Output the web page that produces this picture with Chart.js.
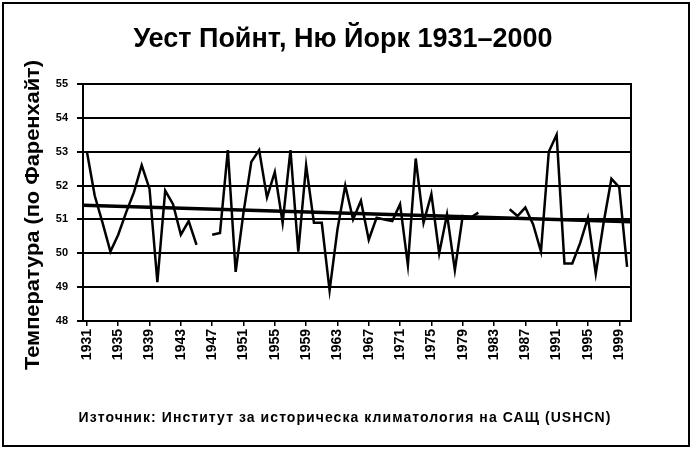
<!DOCTYPE html>
<html>
<head>
<meta charset="utf-8">
<script src="https://cdn.jsdelivr.net/npm/chart.js@4.4.1/dist/chart.umd.min.js"></script>
<style>
  html, body { margin:0; padding:0; background:#fff; }
  #wrap { width:693px; height:452px; }
</style>
</head>
<body>
<div id="wrap"><canvas id="chart" width="693" height="452"></canvas></div>
<script>
const years = [];
for (let y = 1931; y <= 2000; y++) years.push(y);

// mean annual temperature, F (null = no data)
const temps = [
  53.0, 51.7, 50.9, 50.05, 50.55, 51.2, 51.8, 52.6, 51.9, 49.15,   // 1931-1940
  51.85, 51.45, 50.55, 50.95, 50.25, null, 50.55, 50.6, 53.05, 49.45, // 1941-1950
  51.2, 52.7, 53.05, 51.65, 52.4, 50.9, 53.05, 50.05, 52.6, 50.9,   // 1951-1960
  50.9, 48.9, 50.7, 52.0, 51.0, 51.55, 50.4, 51.05, 51.0, 50.95,    // 1961-1970
  51.45, 49.65, 52.8, 50.9, 51.75, 50.0, 51.15, 49.5, 51.1, 51.05,  // 1971-1980
  51.2, null, null, null, 51.3, 51.1, 51.35, 50.85, 50.05, 53.0,    // 1981-1990
  53.5, 49.7, 49.7, 50.3, 51.05, 49.4, 50.9, 52.2, 51.95, 49.6      // 1991-2000
];

const trendYears = [1930.5, 2000.5];
const trendValues = [51.42, 50.93];

const tickYears = [1931, 1935, 1939, 1943, 1947, 1951, 1955, 1959, 1963, 1967,
                   1971, 1975, 1979, 1983, 1987, 1991, 1995, 1999];
const yMin = 48, yMax = 55;

const titleText = 'Уест Пойнт, Ню Йорк 1931–2000';
const yTitleText = 'Температура (по Фаренхайт)';
const sourceText = 'Източник: Институт за историческа климатология на САЩ (USHCN)';

const sans = "'Liberation Sans', Arial, sans-serif";

// draw text squeezed/stretched to a given width (the original uses a condensed face)
function fitText(c, txt, cx, cy, w, rot) {
  const m = c.measureText(txt).width;
  c.save();
  c.translate(cx, cy);
  if (rot) c.rotate(rot);
  c.scale(w / m, 1);
  c.textAlign = 'center';
  c.fillText(txt, 0, 0);
  c.restore();
}

const texts = {
  id: 'texts',
  afterDraw(chart) {
    const c = chart.ctx;
    c.save();
    c.fillStyle = '#000';
    c.textBaseline = 'alphabetic';

    c.font = 'bold 27px ' + sans;
    fitText(c, titleText, 343, 47, 419, 0);

    c.font = 'bold 21px ' + sans;
    fitText(c, yTitleText, 39, 215, 310, -Math.PI / 2);

    c.font = 'bold 14px ' + sans;
    const n = sourceText.length;
    const m = c.measureText(sourceText).width;
    c.letterSpacing = ((533 - m) / n).toFixed(2) + 'px';
    c.textAlign = 'center';
    c.fillText(sourceText, 345, 422);

    c.letterSpacing = '0px';
    c.strokeStyle = '#000';
    c.lineWidth = 2;
    c.strokeRect(3, 3, 686, 443);
    c.restore();
  }
};

new Chart(document.getElementById('chart'), {
  type: 'line',
  data: {
    datasets: [
      {
        label: 'temp',
        data: years.map((y, i) => ({ x: y, y: temps[i] })),
        borderColor: '#000',
        borderWidth: 2.5,
        pointRadius: 0,
        spanGaps: false,
        tension: 0
      },
      {
        label: 'trend',
        data: trendYears.map((y, i) => ({ x: y, y: trendValues[i] })),
        borderColor: '#000',
        borderWidth: 3.5,
        pointRadius: 0
      }
    ]
  },
  options: {
    responsive: false,
    animation: false,
    layout: { padding: { left: 8, right: 10, top: 84, bottom: 71 } },
    plugins: {
      legend: { display: false },
      tooltip: { enabled: false },
      title: { display: false }
    },
    scales: {
      x: {
        type: 'linear',
        min: 1930.5,
        max: 2000.5,
        afterBuildTicks: s => { s.ticks = tickYears.map(v => ({ value: v })); },
        afterFit: s => { s.height = 60; },
        grid: { display: true, drawOnChartArea: false, drawTicks: true, tickLength: 5, color: '#000', lineWidth: 1.5 },
        border: { display: true, color: '#000', width: 2 },
        ticks: {
          color: '#000',
          minRotation: 90, maxRotation: 90,
          autoSkip: false,
          padding: 3,
          font: { family: sans, size: 14, weight: 'bold' },
          callback: v => String(v)
        }
      },
      y: {
        min: yMin,
        max: yMax,
        afterFit: s => { s.width = 75; },
        grid: { color: '#000', lineWidth: 2, drawTicks: true, tickLength: 6 },
        border: { display: true, color: '#000', width: 2 },
        ticks: {
          stepSize: 1,
          color: '#000',
          padding: 9,
          font: { family: sans, size: 11, weight: 'bold' }
        }
      },
      y2: {
        position: 'right',
        min: yMin,
        max: yMax,
        afterFit: s => { s.width = 52; },
        grid: { display: false },
        border: { display: true, color: '#000', width: 2 },
        ticks: { display: false }
      }
    }
  },
  plugins: [texts]
});
</script>
</body>
</html>
